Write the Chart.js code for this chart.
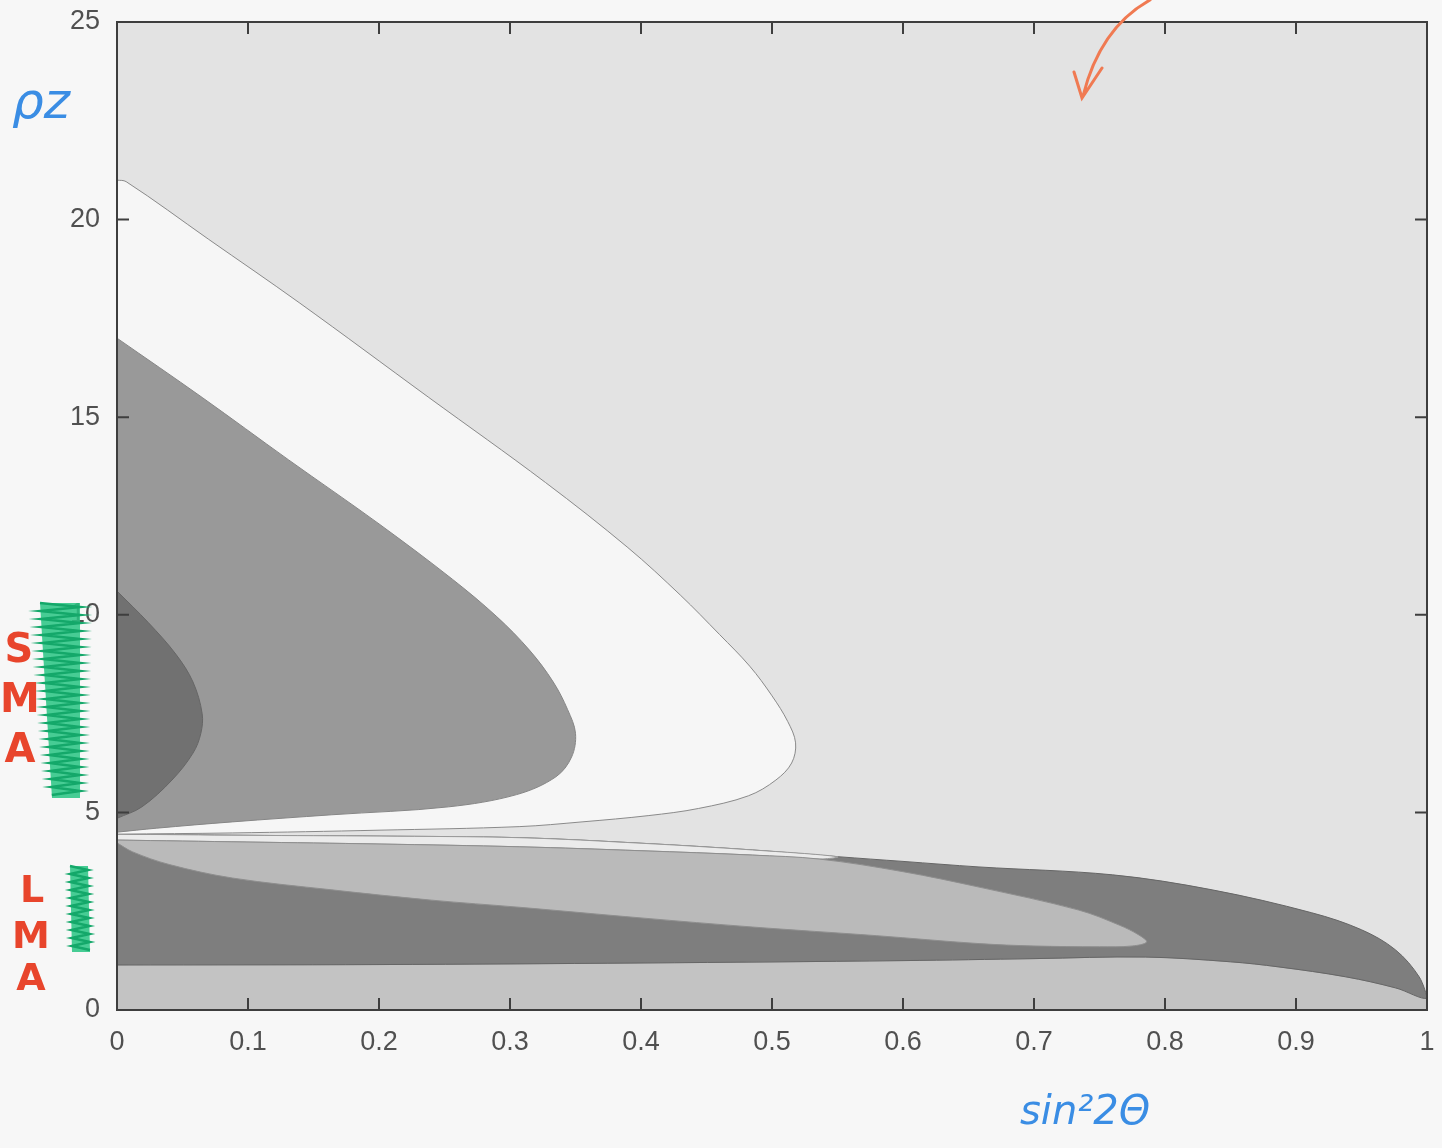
<!DOCTYPE html>
<html>
<head>
<meta charset="utf-8">
<script src="https://cdn.jsdelivr.net/npm/chart.js@4.4.1/dist/chart.umd.min.js"></script>
<style>
  html, body { margin: 0; padding: 0; background: #f7f7f7; }
  canvas { display: block; }
</style>
</head>
<body>
<canvas id="c" width="1442" height="1148"></canvas>
<script>
// ---------- tick labels ----------
const xTickValues = [0, 0.1, 0.2, 0.3, 0.4, 0.5, 0.6, 0.7, 0.8, 0.9, 1];
const xTickLabels = ['0', '0.1', '0.2', '0.3', '0.4', '0.5', '0.6', '0.7', '0.8', '0.9', '1'];
const yTickValues = [0, 5, 10, 15, 20, 25];
const yTickLabels = ['0', '5', '10', '15', '20', '25'];

// ---------- region outlines (sin^2 2θ , ρz) ----------
// bottom light band
const bandX = [0, 1, 1, 0.976, 0.938, 0.887, 0.85, 0.785, 0.7, 0.6, 0.4, 0.2, 0];
const bandY = [0, 0, 0.3, 0.56, 0.84, 1.09, 1.22, 1.34, 1.3, 1.25, 1.19, 1.15, 1.14];

// dark lower region (LMA)
const lmaDarkX = [0, 0.1, 0.2, 0.307, 0.4, 0.485, 0.55, 0.6, 0.658, 0.76, 0.836, 0.912, 0.95, 0.976, 0.994, 1,
                  0.976, 0.938, 0.887, 0.85, 0.785, 0.7, 0.6, 0.4, 0.2, 0];
const lmaDarkY = [4.45, 4.42, 4.4, 4.36, 4.22, 4.05, 3.88, 3.76, 3.62, 3.42, 3.04, 2.46, 2.03, 1.52, 0.84, 0.3,
                  0.56, 0.84, 1.09, 1.22, 1.34, 1.3, 1.25, 1.19, 1.15, 1.14];

// thin light strip
const stripX = [0, 0.1, 0.2, 0.307, 0.4, 0.485, 0.55, 0.536, 0.485, 0.4, 0.307, 0.2, 0.1, 0];
const stripY = [4.45, 4.42, 4.4, 4.36, 4.22, 4.05, 3.88, 3.82, 3.92, 4.03, 4.13, 4.2, 4.25, 4.3];

// medium grey lower region
const lmaMidX = [0, 0.1, 0.2, 0.307, 0.4, 0.485, 0.536, 0.6, 0.658, 0.734, 0.765, 0.78, 0.786,
                 0.775, 0.75, 0.7, 0.658, 0.58, 0.485, 0.4, 0.307, 0.24, 0.164, 0.088, 0.04, 0.012, 0];
const lmaMidY = [4.3, 4.25, 4.2, 4.13, 4.03, 3.92, 3.82, 3.5, 3.11, 2.53, 2.15, 1.9, 1.72,
                 1.62, 1.6, 1.62, 1.68, 1.88, 2.1, 2.33, 2.6, 2.78, 3.04, 3.34, 3.68, 4.0, 4.23];

// white region
const whiteX = [0, 0.007, 0.07, 0.139, 0.238, 0.327, 0.39, 0.43, 0.46, 0.483, 0.5, 0.512, 0.518,
                0.515, 0.503, 0.482, 0.444, 0.406, 0.355, 0.307, 0.2, 0.088, 0];
const whiteY = [21, 20.96, 19.5, 17.9, 15.5, 13.35, 11.7, 10.5, 9.5, 8.7, 7.95, 7.3, 6.76,
                6.25, 5.82, 5.42, 5.1, 4.92, 4.76, 4.64, 4.55, 4.48, 4.45];

// grey SMA region
const smaGreyX = [0, 0.065, 0.131, 0.2, 0.256, 0.29, 0.315, 0.333, 0.344, 0.35, 0.347, 0.335, 0.305, 0.253, 0.164, 0.088, 0.03, 0];
const smaGreyY = [17, 15.5, 13.92, 12.3, 10.9, 9.95, 9.1, 8.3, 7.6, 7.0, 6.4, 5.9, 5.45, 5.14, 4.94, 4.76, 4.6, 4.5];

// darkest SMA region
const smaDarkX = [0, 0.024, 0.045, 0.058, 0.065, 0.064, 0.058, 0.042, 0.019, 0];
const smaDarkY = [10.6, 9.8, 9.0, 8.3, 7.5, 7.0, 6.5, 5.82, 5.14, 4.85];

function pts(xs, ys) { return xs.map((x, i) => ({ x: x, y: ys[i] })); }

function region(label, xs, ys, fillColor, lineColor, order) {
  return {
    label: label,
    data: pts(xs, ys),
    showLine: true,
    fill: 'shape',
    backgroundColor: fillColor,
    borderColor: lineColor,
    borderWidth: 1,
    pointRadius: 0,
    pointHoverRadius: 0,
    tension: 0.35,
    order: order
  };
}

const datasets = [
  region('band', bandX, bandY, '#c3c3c3', '#9a9a9a', 100),
  region('LMA dark', lmaDarkX, lmaDarkY, '#7e7e7e', '#666666', 90),
  region('strip', stripX, stripY, '#ebebeb', '#9a9a9a', 85),
  region('LMA mid', lmaMidX, lmaMidY, '#bababa', '#8e8e8e', 80),
  region('white', whiteX, whiteY, '#f6f6f6', '#8a8a8a', 70),
  region('SMA grey', smaGreyX, smaGreyY, '#999999', '#868686', 60),
  region('SMA dark', smaDarkX, smaDarkY, '#717171', '#666666', 50)
];

const tickFont = { family: "'Liberation Sans', Arial, sans-serif", size: 27 };

const bgPlugin = {
  id: 'plotBg',
  beforeDatasetsDraw(chart) {
    const a = chart.chartArea, ctx = chart.ctx;
    ctx.save();
    ctx.fillStyle = '#e3e3e3';
    ctx.fillRect(a.left, a.top, a.right - a.left, a.bottom - a.top);
    ctx.restore();
  }
};

const framePlugin = {
  id: 'frame',
  afterDatasetsDraw(chart) {
    const a = chart.chartArea, ctx = chart.ctx;
    const xs = chart.scales.x, ys = chart.scales.y;
    ctx.save();
    ctx.strokeStyle = '#3e3e3e';
    ctx.lineWidth = 2;
    ctx.strokeRect(a.left, a.top, a.right - a.left, a.bottom - a.top);
    const L = 12;
    ctx.beginPath();
    xTickValues.forEach(v => {
      if (v === 0 || v === 1) return;
      const px = xs.getPixelForValue(v);
      ctx.moveTo(px, a.bottom); ctx.lineTo(px, a.bottom - L);
      ctx.moveTo(px, a.top); ctx.lineTo(px, a.top + L);
    });
    yTickValues.forEach(v => {
      if (v === 0 || v === 25) return;
      const py = ys.getPixelForValue(v);
      ctx.moveTo(a.left, py); ctx.lineTo(a.left + L, py);
      ctx.moveTo(a.right, py); ctx.lineTo(a.right - L, py);
    });
    ctx.stroke();
    ctx.restore();
  }
};

const notesPlugin = {
  id: 'notes',
  afterDraw(chart) {
    const ctx = chart.ctx;
    ctx.save();
    // blue rho_z
    ctx.fillStyle = '#3a8de4';
    ctx.font = "italic 50px 'DejaVu Sans', sans-serif";
    ctx.textAlign = 'left';
    ctx.textBaseline = 'alphabetic';
    ctx.fillText('ρz', 12, 118);
    // x label
    ctx.font = "italic 40px 'DejaVu Sans', sans-serif";
    ctx.fillText('sin²2Θ', 1020, 1124);

    // green scribbles
    function scribble(x0, x1, xb0, xb1, y0, y1) {
      ctx.fillStyle = 'rgba(40,196,130,0.85)';
      ctx.beginPath();
      ctx.moveTo(x0, y0); ctx.lineTo(x1, y0); ctx.lineTo(xb1, y1); ctx.lineTo(xb0, y1); ctx.closePath();
      ctx.fill();
      ctx.strokeStyle = '#14a86a';
      ctx.lineWidth = 2.5;
      ctx.beginPath();
      let left = true;
      for (let y = y0; y <= y1; y += 4) {
        const t = (y - y0) / (y1 - y0);
        const xl = x0 + (xb0 - x0) * t, xr = x1 + (xb1 - x1) * t;
        if (y === y0) ctx.moveTo(xl, y); else ctx.lineTo(left ? xl : xr, y);
        left = !left;
      }
      ctx.stroke();
    }
    scribble(40, 80, 52, 80, 603, 798);
    scribble(70, 88, 72, 90, 866, 952);

    // red letters
    ctx.fillStyle = '#e8452c';
    ctx.textAlign = 'center';
    ctx.font = "bold 40px 'DejaVu Sans', sans-serif";
    ctx.fillText('S', 19, 662);
    ctx.fillText('M', 20, 712);
    ctx.fillText('A', 20, 762);
    ctx.font = "bold 38px 'DejaVu Sans', sans-serif";
    ctx.fillText('L', 32, 902);
    ctx.fillText('M', 31, 948);
    ctx.fillText('A', 31, 990);

    // orange arrow
    ctx.strokeStyle = '#f07a52';
    ctx.lineWidth = 3;
    ctx.lineCap = 'round';
    ctx.beginPath();
    ctx.moveTo(1150, 0);
    ctx.quadraticCurveTo(1100, 28, 1083, 96);
    ctx.moveTo(1074, 72); ctx.lineTo(1082, 98); ctx.lineTo(1102, 68);
    ctx.stroke();
    ctx.restore();
  }
};

new Chart(document.getElementById('c'), {
  type: 'scatter',
  data: { datasets: datasets },
  options: {
    responsive: false,
    animation: false,
    events: [],
    layout: { padding: { left: 0, right: 15, top: 22, bottom: 0 } },
    plugins: { legend: { display: false }, tooltip: { enabled: false } },
    scales: {
      x: {
        type: 'linear', min: 0, max: 1,
        afterBuildTicks: s => { s.ticks = xTickValues.map(v => ({ value: v })); },
        afterFit: s => { s.height = 138; s.paddingLeft = 0; s.paddingRight = 0; },
        ticks: { callback: (v, i) => xTickLabels[i], font: tickFont, color: '#505050', padding: 16, maxRotation: 0, autoSkip: false },
        grid: { display: false, drawTicks: false },
        border: { display: false }
      },
      y: {
        type: 'linear', min: 0, max: 25,
        afterBuildTicks: s => { s.ticks = yTickValues.map(v => ({ value: v })); },
        afterFit: s => { s.width = 117; s.paddingTop = 0; s.paddingBottom = 0; },
        ticks: { callback: (v, i) => yTickLabels[i], font: tickFont, color: '#505050', padding: 17, autoSkip: false },
        grid: { display: false, drawTicks: false },
        border: { display: false }
      }
    }
  },
  plugins: [bgPlugin, framePlugin, notesPlugin]
});
</script>
</body>
</html>
